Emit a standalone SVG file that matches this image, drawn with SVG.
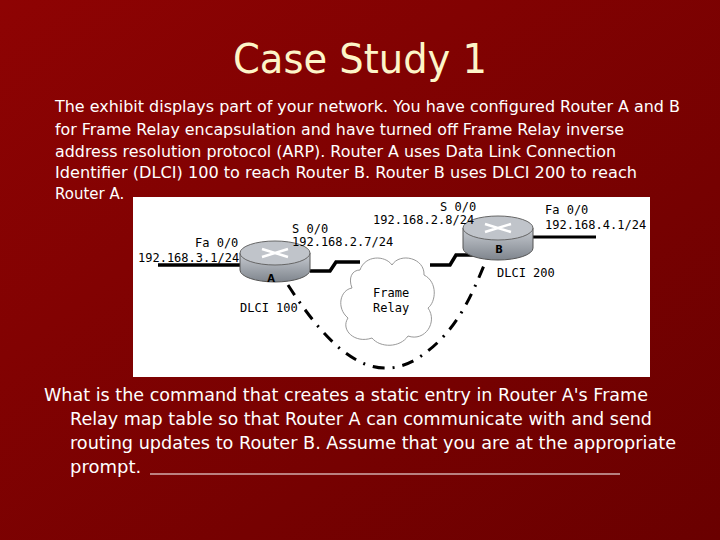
<svg xmlns="http://www.w3.org/2000/svg" width="720" height="540" viewBox="0 0 720 540">
<defs>
<linearGradient id="bg" x1="0" y1="0" x2="1" y2="1"><stop offset="0" stop-color="#8e0303"/><stop offset="1" stop-color="#6a0000"/></linearGradient>
<linearGradient id="rt" x1="0" y1="0" x2="0" y2="1"><stop offset="0" stop-color="#c8ccd2"/><stop offset="1" stop-color="#7f858d"/></linearGradient>
<style>
.t{font-family:"DejaVu Sans",sans-serif;fill:#fff}
.d{font-family:"DejaVu Sans Mono","DejaVu Sans",monospace;font-size:12px;fill:#000}
.w{stroke:#000;stroke-width:3.5;fill:none}
</style>
</defs>
<rect width="720" height="540" fill="url(#bg)"/>
<text x="360" y="73" text-anchor="middle" font-family="DejaVu Sans Condensed,DejaVu Sans,sans-serif" font-size="40" fill="#fdf5c8" textLength="254" lengthAdjust="spacingAndGlyphs">Case Study 1</text>
<g class="t" font-size="15">
<text x="55" y="112" textLength="625" lengthAdjust="spacingAndGlyphs">The exhibit displays part of your network. You have configured Router A and B</text>
<text x="55" y="135" textLength="569" lengthAdjust="spacingAndGlyphs">for Frame Relay encapsulation and have turned off Frame Relay inverse</text>
<text x="55" y="157" textLength="561" lengthAdjust="spacingAndGlyphs">address resolution protocol (ARP). Router A uses Data Link Connection</text>
<text x="55" y="178" textLength="582" lengthAdjust="spacingAndGlyphs">Identifier (DLCI) 100 to reach Router B. Router B uses DLCI 200 to reach</text>
<text x="55" y="199">Router A.</text>
</g>
<rect x="133" y="197" width="517" height="180" fill="#fff"/>
<g id="connectors">
<path class="w" d="M158 265 H242"/>
<path class="w" d="M310 271 H330 L336 262 H360"/>
<path class="w" d="M430 265 H450 L456 255 H480"/>
<path d="M532 237 H596" stroke="#000" stroke-width="3" fill="none"/>
<path d="M288 285 C330 350 370 385 415 360 C455 335 470 300 487 258" stroke="#000" stroke-width="3" fill="none" stroke-dasharray="12 8 2 8"/>
</g>
<g id="cloud">
<path d="M360 270 C365 255 385 255 392 265 C400 252 425 258 424 275 C438 282 436 302 428 308 C438 322 425 342 408 336 C400 348 380 348 372 338 C355 344 340 330 348 318 C336 308 340 290 352 288 C348 278 352 270 360 270 Z" fill="#fff" stroke="#999" stroke-width="1"/>
<text class="d" x="373" y="297">Frame</text>
<text class="d" x="373" y="312">Relay</text>
</g>
<g id="routerA">
<path d="M240 253 V270 A35 12 0 0 0 310 270 V253 Z" fill="url(#rt)" stroke="#555"/>
<ellipse cx="275" cy="253" rx="35" ry="12" fill="#c0c4ca" stroke="#666"/>
<path d="M262 249 L288 257 M262 257 L288 249" stroke="#fff" stroke-width="2.5"/>
<text x="271" y="282" font-family="DejaVu Sans,sans-serif" font-size="10" font-weight="bold" text-anchor="middle">A</text>
</g>
<g id="routerB">
<path d="M463 228 V248 A35 12 0 0 0 533 248 V228 Z" fill="url(#rt)" stroke="#555"/>
<ellipse cx="498" cy="228" rx="35" ry="12" fill="#c0c4ca" stroke="#666"/>
<path d="M485 224 L511 232 M485 232 L511 224" stroke="#fff" stroke-width="2.5"/>
<text x="499" y="253" font-family="DejaVu Sans,sans-serif" font-size="10" font-weight="bold" text-anchor="middle">B</text>
</g>
<g id="labels">
<text class="d" x="195" y="247">Fa 0/0</text>
<text class="d" x="138" y="262">192.168.3.1/24</text>
<text class="d" x="292" y="233">S 0/0</text>
<text class="d" x="292" y="246">192.168.2.7/24</text>
<text class="d" x="440" y="211">S 0/0</text>
<text class="d" x="373" y="224">192.168.2.8/24</text>
<text class="d" x="545" y="214">Fa 0/0</text>
<text class="d" x="545" y="229">192.168.4.1/24</text>
<text class="d" x="497" y="277">DLCI 200</text>
<text class="d" x="240" y="312">DLCI 100</text>
</g>
<g class="t" font-size="18">
<text x="44" y="401" textLength="604" lengthAdjust="spacingAndGlyphs">What is the command that creates a static entry in Router A's Frame</text>
<text x="70" y="425" textLength="582" lengthAdjust="spacingAndGlyphs">Relay map table so that Router A can communicate with and send</text>
<text x="70" y="449" textLength="606" lengthAdjust="spacingAndGlyphs">routing updates to Router B. Assume that you are at the appropriate</text>
<text x="70" y="473">prompt.</text>
</g>
<path d="M150 474 H620" stroke="#fff" stroke-width="1.2"/>
</svg>
